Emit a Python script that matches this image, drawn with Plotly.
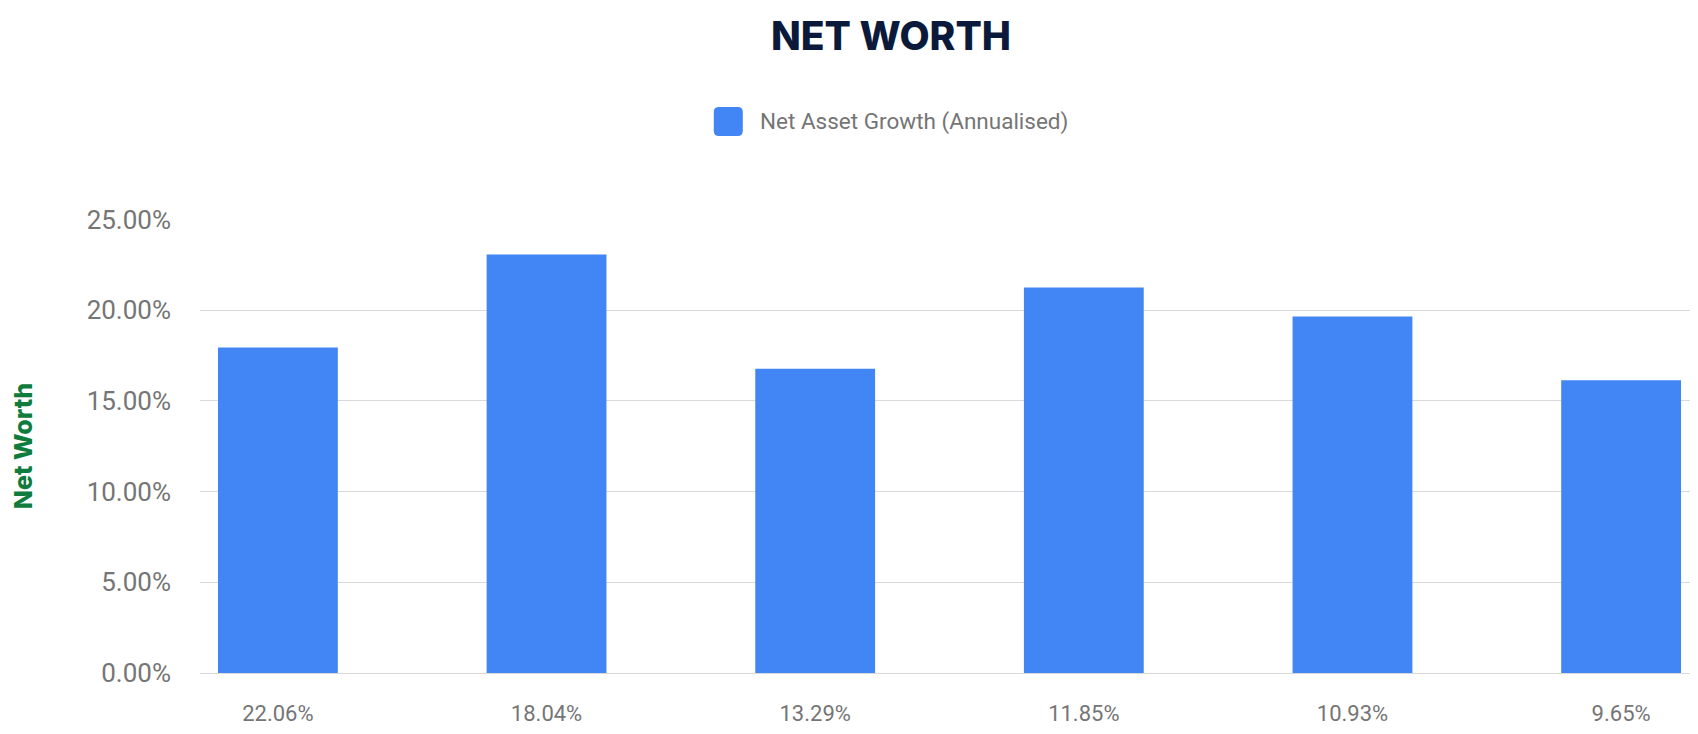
import plotly.graph_objects as go

# values
categories = ["22.06%", "18.04%", "13.29%", "11.85%", "10.93%", "9.65%"]
growth_pct = [17.94, 23.07, 16.78, 21.25, 19.65, 16.14]
series_name = "Net Asset Growth (Annualised)"
y_ticks = [0, 5, 10, 15, 20, 25]
y_tick_labels = ["0.00%", "5.00%", "10.00%", "15.00%", "20.00%", "25.00%"]

BAR_COLOR = "#4285f4"
GRID_COLOR = "#d9d9d9"
TEXT_GREY = "#757575"

PLOT_L, PLOT_T, PLOT_B = 190, 211, 665
PLOT_W = 1698 - PLOT_L
PLOT_H = PLOT_B - PLOT_T


def rounded_square(size, r):
    h = size / 2
    return (f"M {-h + r},{-h} L {h - r},{-h} Q {h},{-h} {h},{-h + r} "
            f"L {h},{h - r} Q {h},{h} {h - r},{h} L {-h + r},{h} "
            f"Q {-h},{h} {-h},{h - r} L {-h},{-h + r} Q {-h},{-h} {-h + r},{-h} Z")


def main():
    bars = go.Bar(
        x=categories, y=growth_pct,
        name=series_name,
        marker=dict(color=BAR_COLOR, line=dict(width=0)),
        width=0.446,
        showlegend=False,
    )

    fig = go.Figure(data=[bars])

    fig.update_layout(
        width=1698, height=734,
        paper_bgcolor="white", plot_bgcolor="white",
        margin=dict(l=PLOT_L, r=0, t=PLOT_T, b=734 - PLOT_B),
        font=dict(family="Roboto, sans-serif", color=TEXT_GREY),
        title=dict(
            text="NET WORTH",
            x=883 / 1698, xref="container", xanchor="center",
            y=1 - 28 / 734, yref="container", yanchor="middle",
            font=dict(family="Inter, sans-serif", size=39, weight=800, color="#0b1a3a"),
        ),
        xaxis=dict(
            type="category",
            range=[-0.29, 5.316],
            showgrid=False, showline=False, zeroline=False,
            ticks="", tickfont=dict(size=22, color=TEXT_GREY),
            ticklabelstandoff=25,
        ),
        yaxis=dict(
            range=[0, 25.03],
            tickvals=y_ticks, ticktext=y_tick_labels,
            showgrid=True, gridcolor=GRID_COLOR, gridwidth=1.4,
            zeroline=True, zerolinecolor=GRID_COLOR, zerolinewidth=1.4,
            showline=False, ticks="",
            tickfont=dict(size=26, color=TEXT_GREY),
            ticklabelstandoff=28,
            title=dict(
                text="Net Worth", standoff=61,
                font=dict(family="Inter, sans-serif", size=25, weight=800, color="#0f7b3d"),
            ),
        ),
    )

    # legend drawn by hand so the swatch can be large and rounded
    legend_y = (PLOT_B - 113.5) / PLOT_H
    fig.add_shape(
        type="path", path=rounded_square(29, 5),
        xref="paper", yref="paper",
        xsizemode="pixel", ysizemode="pixel",
        xanchor=(719 - PLOT_L) / PLOT_W, yanchor=legend_y,
        fillcolor=BAR_COLOR, line=dict(width=0),
    )
    fig.add_annotation(
        text=series_name, showarrow=False,
        xref="paper", yref="paper",
        x=(749 - PLOT_L) / PLOT_W, y=legend_y,
        xanchor="left", yanchor="middle",
        font=dict(size=22.5, color=TEXT_GREY),
    )

    fig.write_html("out.html")


if __name__ == "__main__":
    main()
